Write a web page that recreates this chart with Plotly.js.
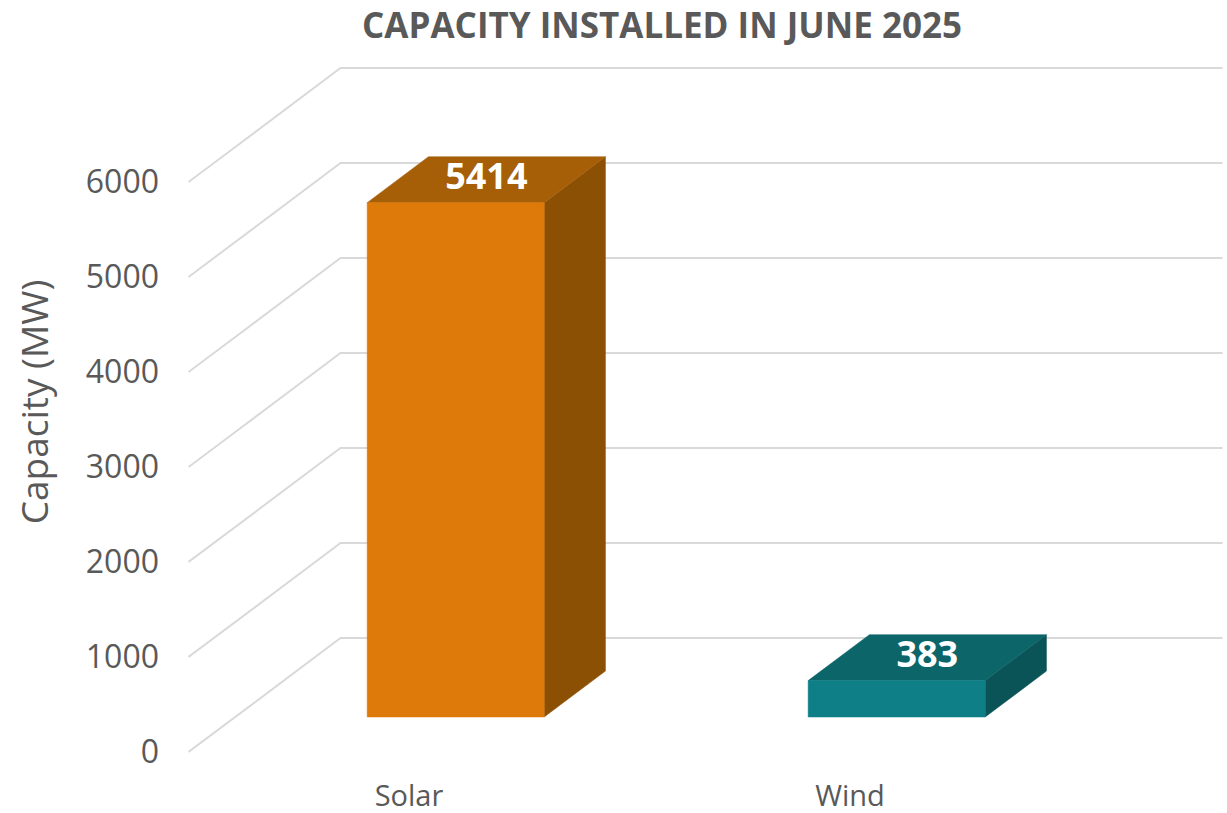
<!DOCTYPE html>
<html>
<head>
<meta charset="utf-8">
<script src="https://cdn.plot.ly/plotly-3.0.1.min.js"></script>
<style>
  html, body { margin: 0; padding: 0; background: #ffffff; }
  #chart { width: 1227px; height: 813px; }
</style>
</head>
<body>
<div id="chart"></div>
<script>
// ---- Data ----
const categories = ['Solar', 'Wind'];
const capacityMW = [5414, 383];
const yTickValues = [0, 1000, 2000, 3000, 4000, 5000, 6000];
const chartTitle = 'CAPACITY INSTALLED IN JUNE 2025';
const yAxisTitle = 'Capacity (MW)';

// ---- Styles / geometry of the 3D look ----
const frontColors = ['#DE7A0A', '#0E7F87'];
const topColors   = ['#A65E07', '#0C6569'];
const sideColors  = ['#8C5005', '#0A5357'];
const gridColor = '#D9D9D9';
const textGray = '#595959';
const FONT = '"Open Sans", "Noto Sans", sans-serif';

const DEPTH_X = 0.3447;   // horizontal shift of full depth, in category units
const DEPTH_Y = 1200;     // vertical shift of full depth, in value units
const BAR_D0 = 0.307, BAR_D1 = 0.71; // bar depth span (fraction of wall depth)
const HALF_W = 0.2007;    // half bar width in category units
const WALL_L = -0.5, WALL_R = 1.5;

function proj(xw, v, d) { return [xw + DEPTH_X * d, v + DEPTH_Y * d]; }

// ---- Gridlines (side wall + back wall) ----
const shapes = yTickValues.map(v => {
  const a = proj(WALL_L, v, 0), b = proj(WALL_L, v, 1), c = proj(WALL_R, v, 1);
  return {
    type: 'path', xref: 'x', yref: 'y', layer: 'below',
    path: `M ${a[0]},${a[1]} L ${b[0]},${b[1]} L ${c[0]},${c[1]}`,
    line: { color: gridColor, width: 2 }
  };
});

// ---- Bars as filled polygons ----
const traces = [];
function poly(pts, color) {
  const xs = pts.map(p => p[0]), ys = pts.map(p => p[1]);
  xs.push(xs[0]); ys.push(ys[0]);
  traces.push({
    type: 'scatter', mode: 'lines', x: xs, y: ys, fill: 'toself',
    fillcolor: color, line: { color: color, width: 0.5 },
    hoverinfo: 'skip', showlegend: false
  });
}
categories.forEach((cat, i) => {
  const v = capacityMW[i];
  const l = i - HALF_W, r = i + HALF_W;
  // side face
  poly([proj(r, 0, BAR_D0), proj(r, v, BAR_D0), proj(r, v, BAR_D1), proj(r, 0, BAR_D1)], sideColors[i]);
  // top face
  poly([proj(l, v, BAR_D0), proj(r, v, BAR_D0), proj(r, v, BAR_D1), proj(l, v, BAR_D1)], topColors[i]);
  // front face
  poly([proj(l, 0, BAR_D0), proj(r, 0, BAR_D0), proj(r, v, BAR_D0), proj(l, v, BAR_D0)], frontColors[i]);
});

// ---- Value labels on the top faces ----
const mid = (BAR_D0 + BAR_D1) / 2;
traces.push({
  type: 'scatter', mode: 'text',
  x: categories.map((c, i) => proj(i, capacityMW[i], mid)[0]),
  y: categories.map((c, i) => proj(i, capacityMW[i], mid)[1]),
  text: capacityMW.map(v => String(v)),
  textposition: 'middle center',
  textfont: { family: FONT, size: 36, color: '#FFFFFF', weight: 'bold' },
  hoverinfo: 'skip', showlegend: false
});

// ---- Layout ----
const W = 1227, H = 813;
const mL = 188, mR = 0, mT = 31, mB = 40;
const pxPerCat = 441, cat0Px = 409;           // screen scale of the category axis
const pxPerVal = 0.095, zeroPx = 752;         // screen scale of the value axis
const xRange = [(mL - cat0Px) / pxPerCat, (W - mR - cat0Px) / pxPerCat];
const yRange = [(zeroPx - (H - mB)) / pxPerVal, (zeroPx - mT) / pxPerVal];

const layout = {
  width: W, height: H,
  margin: { l: mL, r: mR, t: mT, b: mB, pad: 0 },
  paper_bgcolor: '#FFFFFF', plot_bgcolor: '#FFFFFF',
  showlegend: false,
  title: {
    text: chartTitle,
    font: { family: FONT, size: 35, color: textGray, weight: 'bold' },
    xref: 'container', yref: 'container',
    x: 662 / W, y: 1 - 26 / H, xanchor: 'center', yanchor: 'middle'
  },
  xaxis: {
    range: xRange, fixedrange: true,
    showgrid: false, zeroline: false, showline: false,
    tickmode: 'array',
    tickvals: categories.map((c, i) => i),
    ticktext: categories,
    ticks: '', ticklabelstandoff: 3,
    tickfont: { family: FONT, size: 29, color: textGray }
  },
  yaxis: {
    range: yRange, fixedrange: true,
    showgrid: false, zeroline: false, showline: false,
    tickmode: 'array',
    tickvals: yTickValues,
    ticktext: yTickValues.map(v => String(v)),
    ticks: '', ticklabelstandoff: 28,
    tickfont: { family: FONT, size: 32, color: textGray },
    title: {
      text: yAxisTitle,
      font: { family: FONT, size: 37, color: textGray },
      standoff: 25
    }
  }
};

Plotly.newPlot('chart', traces, Object.assign(layout, { shapes: shapes }), { displayModeBar: false, staticPlot: true });
</script>
</body>
</html>
